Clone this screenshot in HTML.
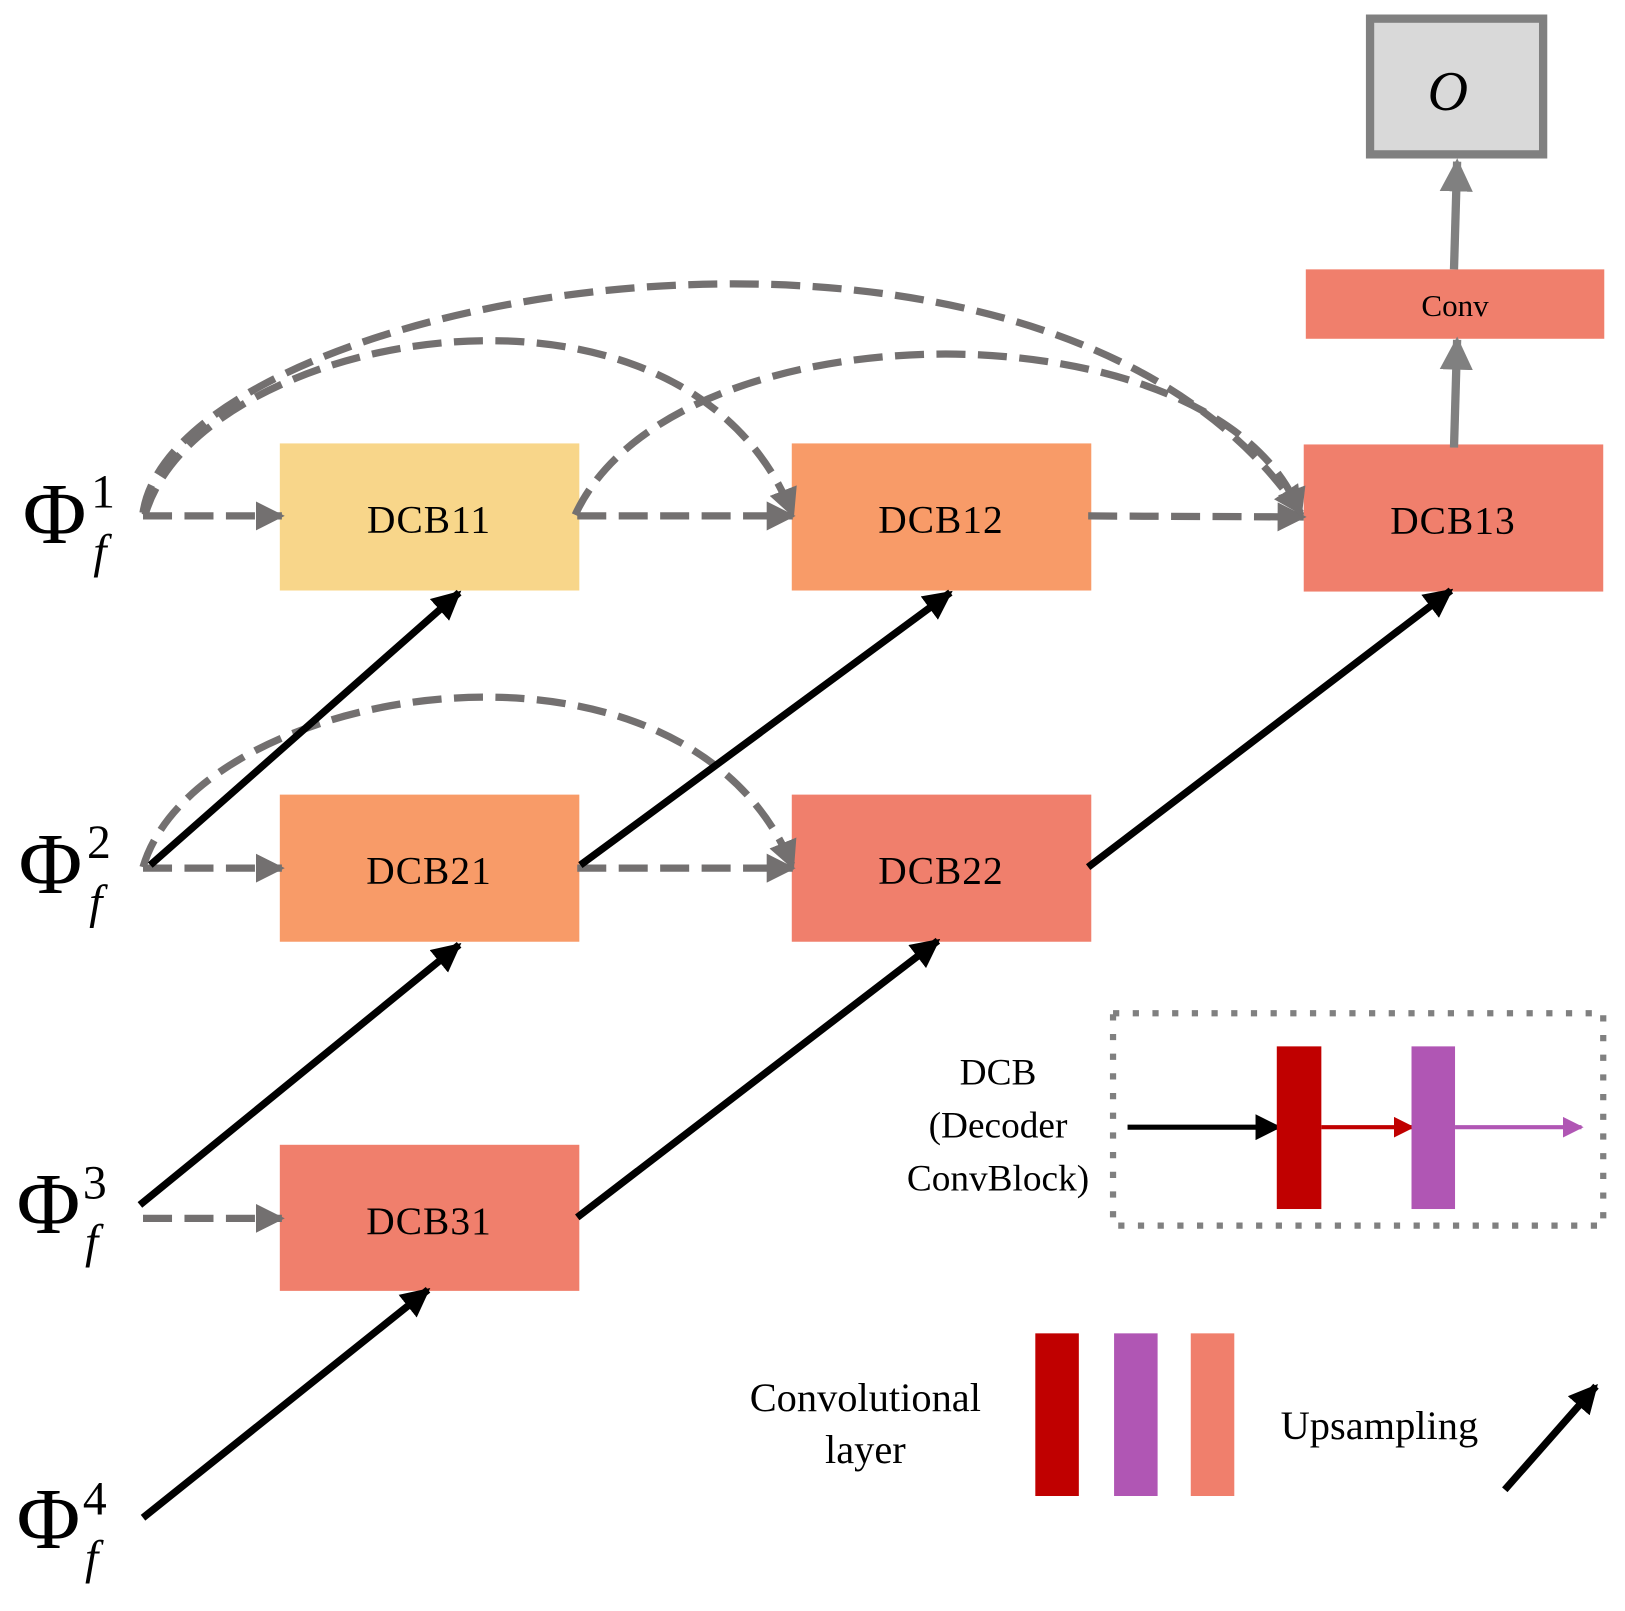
<!DOCTYPE html>
<html><head><style>
html,body{margin:0;padding:0;background:#fff;}
svg{display:block;}
text{font-family:"Liberation Serif",serif;}
</style></head><body>
<svg width="1625" height="1611" viewBox="0 0 1568 1555" preserveAspectRatio="none" xmlns="http://www.w3.org/2000/svg">
<defs>
<marker id="ag" viewBox="0 0 10 10" refX="9" refY="5" markerWidth="4" markerHeight="4" orient="auto" markerUnits="strokeWidth"><path d="M0,0L10,5L0,10z" fill="#737070"/></marker>
<marker id="ag2" viewBox="0 0 10 10" refX="9" refY="5" markerWidth="4" markerHeight="4" orient="auto" markerUnits="strokeWidth"><path d="M0,0L10,5L0,10z" fill="#808080"/></marker>
<marker id="ab" viewBox="0 0 10 10" refX="9" refY="5" markerWidth="4" markerHeight="4" orient="auto" markerUnits="strokeWidth"><path d="M0,0L10,5L0,10z" fill="#000"/></marker>
<marker id="ab2" viewBox="0 0 10 10" refX="9" refY="5" markerWidth="5" markerHeight="5" orient="auto" markerUnits="strokeWidth"><path d="M0,0L10,5L0,10z" fill="#000"/></marker>
<marker id="ar" viewBox="0 0 10 10" refX="9" refY="5" markerWidth="5" markerHeight="5" orient="auto" markerUnits="strokeWidth"><path d="M0,0L10,5L0,10z" fill="#c00000"/></marker>
<marker id="ap" viewBox="0 0 10 10" refX="9" refY="5" markerWidth="5" markerHeight="5" orient="auto" markerUnits="strokeWidth"><path d="M0,0L10,5L0,10z" fill="#b056b4"/></marker>
</defs>

<rect x="1322" y="18" width="167" height="131" fill="#d9d9d9" stroke="#808080" stroke-width="8"/>
<text x="1397" y="106" font-size="54" font-style="italic" text-anchor="middle">O</text>

<rect x="1260" y="260" width="288" height="67" fill="#f07f6c"/>
<text x="1404" y="305" font-size="30" text-anchor="middle">Conv</text>

<rect x="270" y="428" width="289" height="142" fill="#f8d68a"/>
<rect x="764" y="428" width="289" height="142" fill="#f89b68"/>
<rect x="1258" y="429" width="289" height="142" fill="#f07f6c"/>
<rect x="270" y="767" width="289" height="142" fill="#f89b68"/>
<rect x="764" y="767" width="289" height="142" fill="#f07f6c"/>
<rect x="270" y="1105" width="289" height="141" fill="#f07f6c"/>
<g font-size="38" text-anchor="middle" letter-spacing="1">
<text x="414" y="514">DCB11</text>
<text x="908" y="514">DCB12</text>
<text x="1402" y="515">DCB13</text>
<text x="414" y="853">DCB21</text>
<text x="908" y="853">DCB22</text>
<text x="414" y="1191">DCB31</text>
</g>

<line x1="1403" y1="260" x2="1406" y2="156" stroke="#808080" stroke-width="8" marker-end="url(#ag2)"/>
<line x1="1403" y1="432" x2="1406" y2="328" stroke="#808080" stroke-width="8" marker-end="url(#ag2)"/>

<g fill="none" stroke="#737070" stroke-width="7" stroke-dasharray="28,12">
<line x1="138" y1="498" x2="272" y2="498" marker-end="url(#ag)"/>
<line x1="557" y1="498" x2="765" y2="498" marker-end="url(#ag)"/>
<line x1="1050" y1="498" x2="1258" y2="499" marker-end="url(#ag)"/>
<line x1="138" y1="838" x2="272" y2="838" marker-end="url(#ag)"/>
<line x1="557" y1="838" x2="765" y2="838" marker-end="url(#ag)"/>
<line x1="138" y1="1176" x2="272" y2="1176" marker-end="url(#ag)"/>
<path d="M138,495 C170,280 1010,130 1255,495" marker-end="url(#ag)"/>
<path d="M140,497 C190,320 660,230 765,497" marker-end="url(#ag)"/>
<path d="M555,497 C650,290 1180,290 1255,497" marker-end="url(#ag)"/>
<path d="M138,837 C190,660 660,580 765,837" marker-end="url(#ag)"/>
</g>

<g stroke="#000" stroke-width="7" fill="none">
<line x1="145" y1="835" x2="443" y2="572" marker-end="url(#ab)"/>
<line x1="560" y1="835" x2="917" y2="572" marker-end="url(#ab)"/>
<line x1="1050" y1="837" x2="1400" y2="570" marker-end="url(#ab)"/>
<line x1="135" y1="1163" x2="443" y2="912" marker-end="url(#ab)"/>
<line x1="557" y1="1175" x2="905" y2="908" marker-end="url(#ab)"/>
<line x1="138" y1="1465" x2="413" y2="1245" marker-end="url(#ab)"/>
<line x1="1452" y1="1438" x2="1540" y2="1338" marker-end="url(#ab)"/>
</g>

<g font-size="84">
<text x="22" y="524">Φ</text><text x="88" y="490" font-size="46">1</text><text x="90" y="548" font-size="46" font-style="italic">f</text>
<text x="18" y="862">Φ</text><text x="84" y="828" font-size="46">2</text><text x="86" y="886" font-size="46" font-style="italic">f</text>
<text x="16" y="1190">Φ</text><text x="80" y="1157" font-size="46">3</text><text x="82" y="1214" font-size="46" font-style="italic">f</text>
<text x="16" y="1494">Φ</text><text x="80" y="1462" font-size="46">4</text><text x="82" y="1519" font-size="46" font-style="italic">f</text>
</g>

<rect x="1074" y="978" width="473" height="205" fill="none" stroke="#808080" stroke-width="6" stroke-dasharray="6,13"/>
<g font-size="36" text-anchor="middle">
<text x="963" y="1047">DCB</text>
<text x="963" y="1098">(Decoder</text>
<text x="963" y="1149">ConvBlock)</text>
</g>
<line x1="1088" y1="1088" x2="1234" y2="1088" stroke="#000" stroke-width="5" marker-end="url(#ab2)"/>
<rect x="1232" y="1010" width="43" height="157" fill="#c00000"/>
<line x1="1275" y1="1088" x2="1363" y2="1088" stroke="#c00000" stroke-width="4" marker-end="url(#ar)"/>
<rect x="1362" y="1010" width="42" height="157" fill="#b056b4"/>
<line x1="1404" y1="1088" x2="1526" y2="1088" stroke="#b056b4" stroke-width="4" marker-end="url(#ap)"/>

<rect x="999" y="1287" width="42" height="157" fill="#c00000"/>
<rect x="1075" y="1287" width="42" height="157" fill="#b056b4"/>
<rect x="1149" y="1287" width="42" height="157" fill="#f07f6c"/>
<g font-size="39" text-anchor="middle">
<text x="835" y="1362">Convolutional</text>
<text x="835" y="1412">layer</text>
<text x="1331" y="1389">Upsampling</text>
</g>
</svg>
</body></html>
